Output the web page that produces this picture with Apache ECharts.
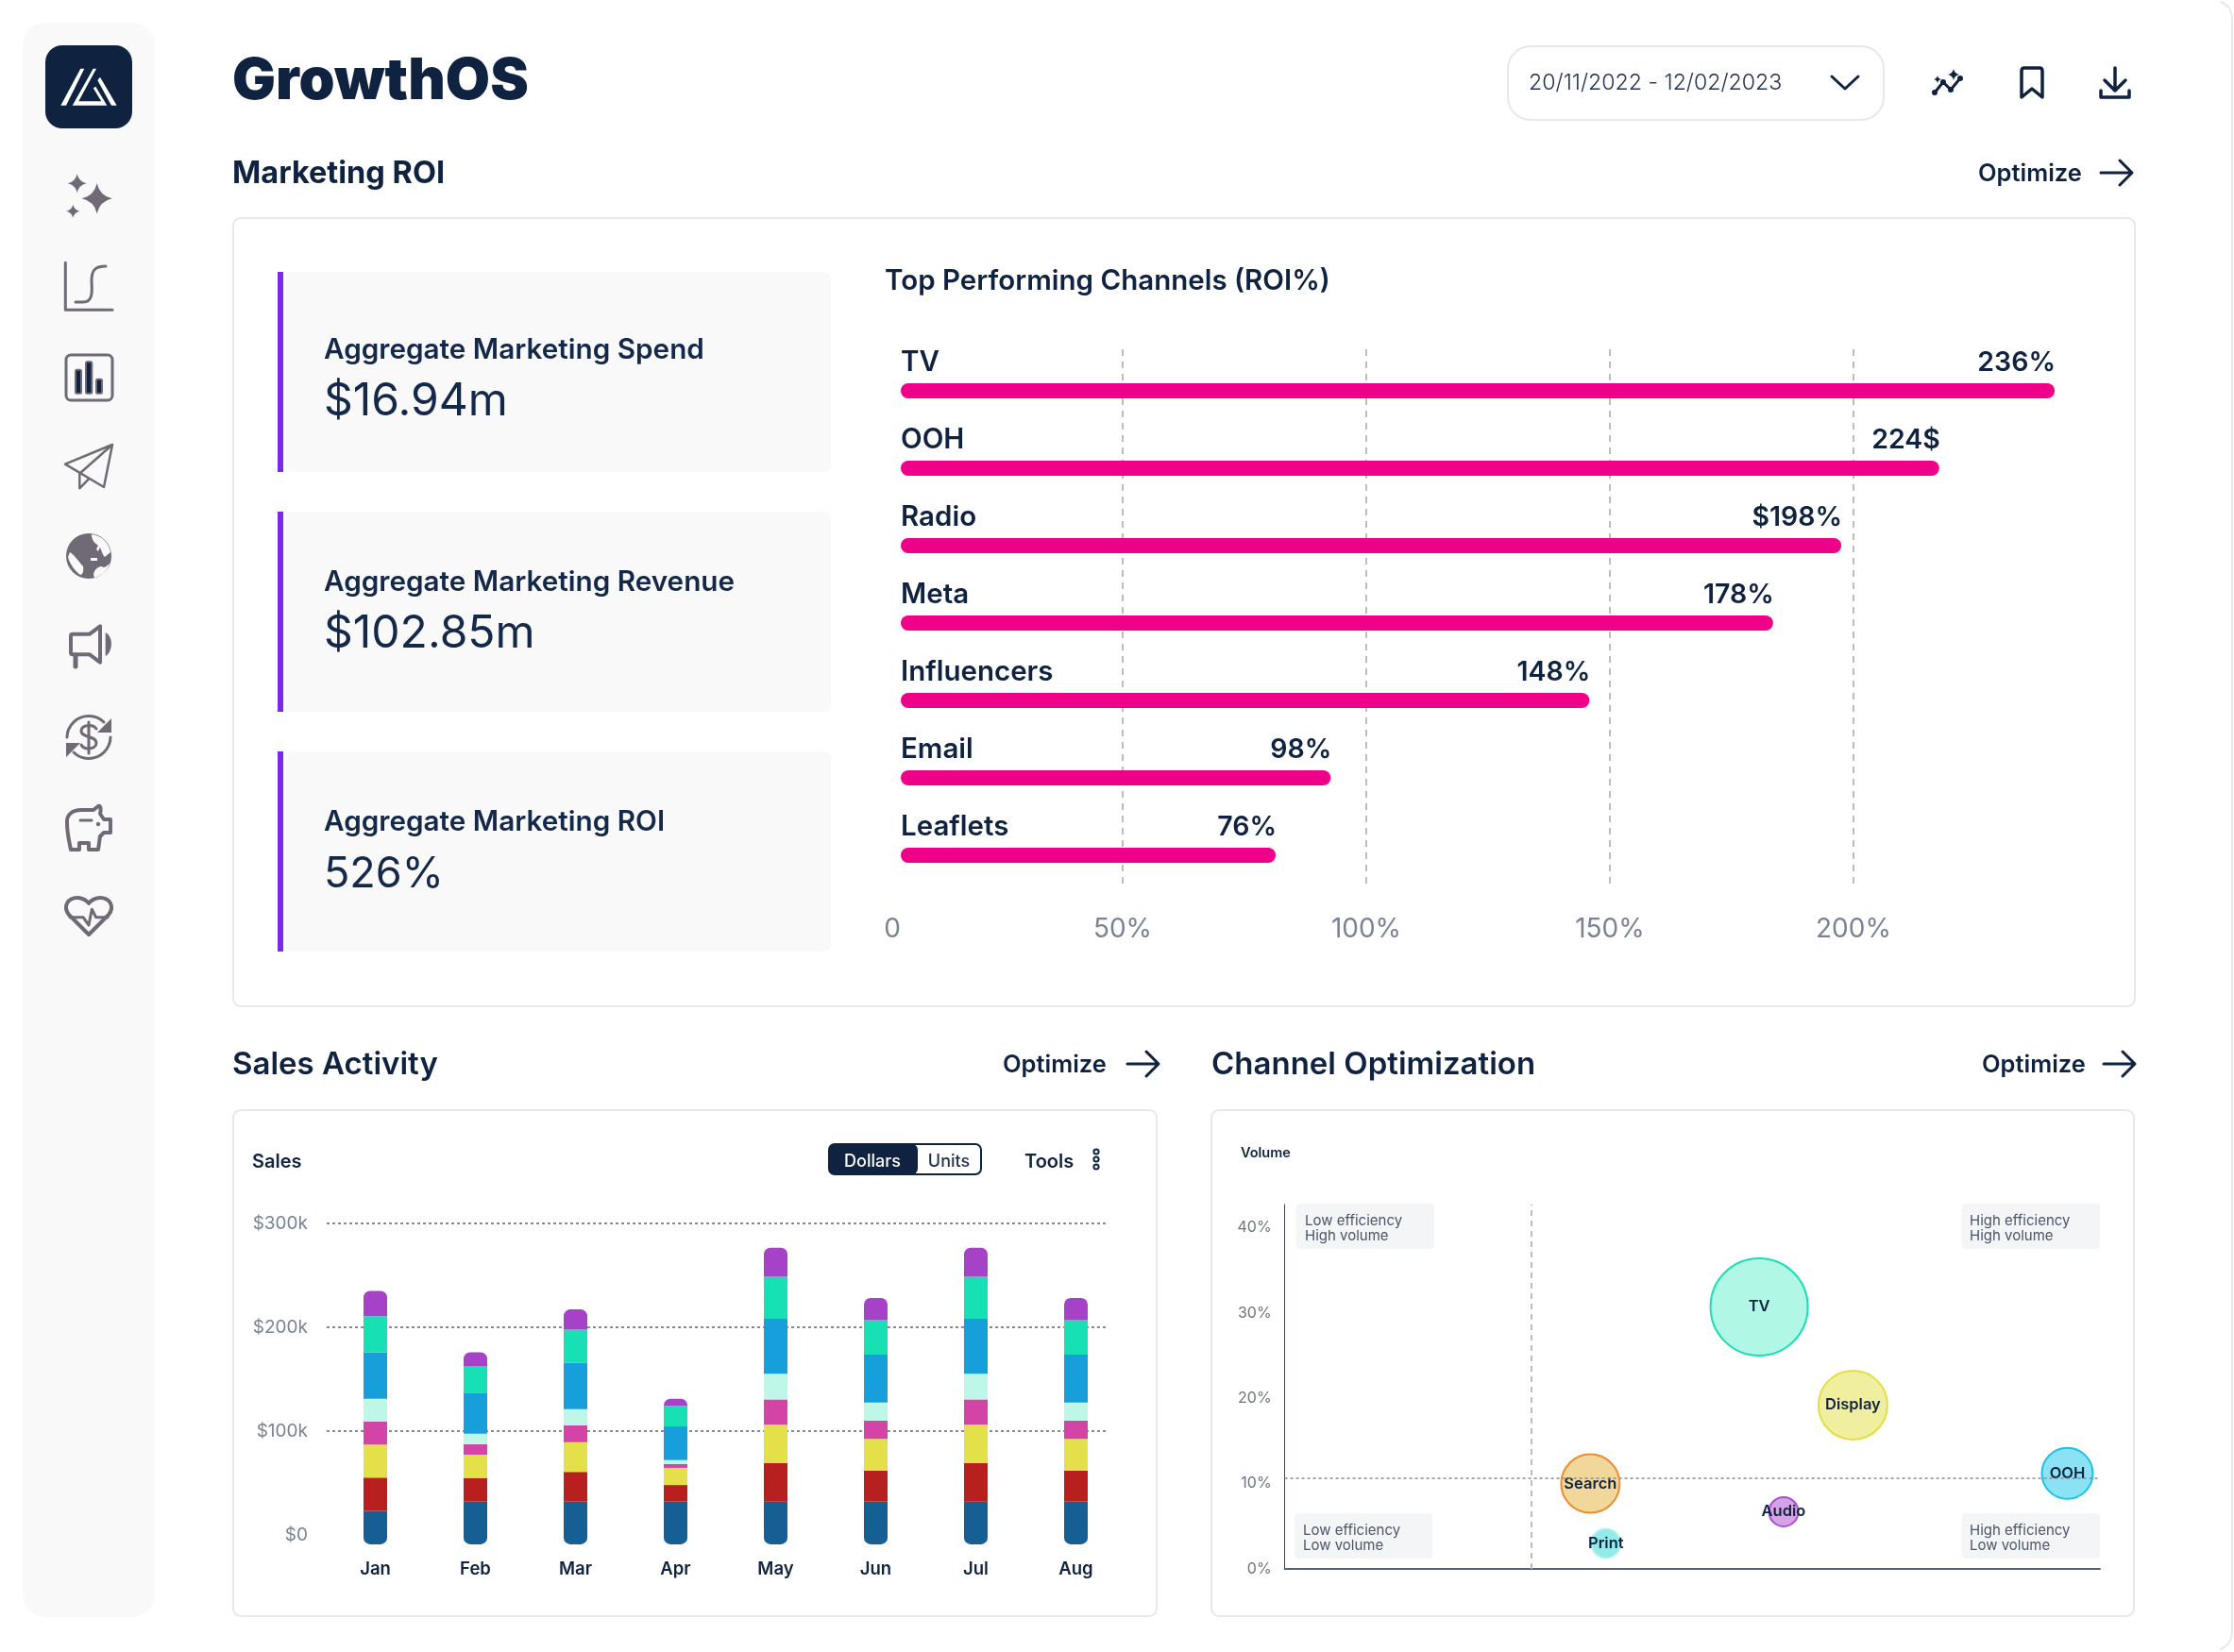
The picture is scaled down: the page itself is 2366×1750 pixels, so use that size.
<!DOCTYPE html>
<html>
<head>
<meta charset="utf-8">
<style>html,body{margin:0;padding:0;background:#fff}#c{width:2366px;height:1750px}</style>
<script src="https://cdn.jsdelivr.net/npm/echarts@6/dist/echarts.min.js"></script>
</head>
<body>
<div id="c"></div>
<script>
// ---------- data ----------
const channels = ['TV','OOH','Radio','Meta','Influencers','Email','Leaflets'];
const roiBarValues = [241.3,217.6,197.5,183.5,145.8,92.7,81.4];
const roiLabels = ['236%','224$','$198%','178%','148%','98%','76%'];
const roiTicks = [50,100,150,200];
const roiAxisStart = 4.46;

const kpiLabels = ['Aggregate Marketing Spend','Aggregate Marketing Revenue','Aggregate Marketing ROI'];
const kpiValues = ['$16.94m','$102.85m','526%'];

const months = ['Jan','Feb','Mar','Apr','May','Jun','Jul','Aug'];
const salesBelowZero = [-9,-9,-9,-9,-9,-9,-9,-9];
const sales1 = [23.1,32.1,32.1,32.1,32.1,32.1,32.1,32.1];
const sales2 = [32.1,22.8,28.6,16.0,37.1,29.9,37.1,29.9];
const sales3 = [31.8,22.4,28.6,16.5,37.0,30.5,37.0,30.5];
const sales4 = [22.1,10.0,16.2,3.6,24.3,17.6,24.3,17.6];
const sales5 = [22.1,10.1,15.6,3.9,24.7,17.5,24.7,17.5];
const sales6 = [44.8,39.0,44.8,32.4,52.9,46.1,52.9,46.1];
const sales7 = [34.7,25.9,31.8,19.5,40.6,33.1,40.6,33.1];
const sales8 = [24.4,13.7,19.5,7.2,27.9,21.4,27.9,21.4];

const bubbleNames = ['TV','Display','Search','OOH','Audio','Print'];
const bubbleEfficiency = [58.2,69.7,37.5,96.0,61.2,39.4];
const bubbleVolume = [30.7,19.2,10.0,11.2,6.7,3.0];
const bubbleDiameter = [103,73,62,54,31,31];
const volumeRefLine = 10.7;
const efficiencyRefLine = 30.3;

// ---------- styles ----------
const NAVY='#0f2240', GREY='#6f6a75', FONT='Inter', BORDER='#e8e8e8', PANEL='#f9f9f9';
const salesColors=['#165f94','#165f94','#b8201f','#e3e04a','#d444a6','#bef7e8','#179fdc','#17e0b4','#a642c8'];
const bubbleFill=['#b0f7e5','#f0ef9f','#f1d89a','#8ae2f4','#d6a3e8','#93ebe9'];
const bubbleStroke=['#17dfb5','#e2de43','#f08b30','#1ec0e8','#a94fd0','#b5f1ee'];

// ---------- chrome helpers ----------
const g=[], icons=[];
function rect(x,y,w,h,r,fill,stroke,lw){g.push({type:'rect',z:-1,silent:true,shape:{x,y,width:w,height:h,r},style:{fill:fill||'none',stroke:stroke||'none',lineWidth:lw||0}});}
function text(s,x,y,size,weight,color,align){y+=2;g.push({type:'text',z:-1,silent:true,x,y,style:{text:s,fontFamily:FONT,fontSize:size,fontWeight:weight,fill:color,align:align||'left',verticalAlign:'middle',textAlign:align||'left',textVerticalAlign:'middle'}});}
function path(d,fill,stroke,lw){icons.push({type:'path',silent:true,shape:{pathData:d},style:{fill:fill||'none',stroke:stroke||'none',lineWidth:lw||0,lineCap:'round',lineJoin:'round'}});}
function star(x,y,r){const k=r*.18;return `M${x},${y-r}Q${x+k},${y-k} ${x+r},${y}Q${x+k},${y+k} ${x},${y+r}Q${x-k},${y+k} ${x-r},${y}Q${x-k},${y-k} ${x},${y-r}Z`;}
function arrow(x,y){path(`M${x},${y}H${x+33}M${x+20},${y-13}L${x+33},${y}L${x+20},${y+13}`,null,NAVY,3);}
function optimize(x,y,ax){text('Optimize',x,y,25.5,600,NAVY);arrow(ax,y+1);}

// frame edge
path('M2352,2Q2363,6 2364,18V1730Q2363,1742 2352,1747',null,BORDER,2);
// sidebar
rect(24,24,140,1689,24,PANEL);
rect(48,48,92,88,18,NAVY);
path('M64.3,111.7L70,111.7L89.3,72.7L85.3,72.7Z','#fff');
path('M76.7,111.7L98.7,72.7L102,72.7L83.3,107.3L107.3,107.3L98.7,93.3L101.3,91.7L113.3,111.7Z','#fff');
path('M103.3,85L106,81.7L123.7,111.7L118,111.7Z','#fff');
path(star(102.7,210.3,16)+star(81.7,194.3,10)+star(77.3,223.7,7),GREY);
path('M69.3,278.3V328.3H119M80,320H88C100,320 97,305 97,297C97,285 102,282 112,282',null,GREY,3);
rect(70,376,49,48,5,'none',GREY,3);
[[80,391.7,6,25],[91,383.3,6.3,33.4],[102,401.7,6,15]].forEach(b=>rect(b[0],b[1],b[2],b[3],1.5,NAVY,GREY,2));
path('M69,491.7L119,471L110,516ZM119,471L84.3,501.7V517.3L94,507.3',null,GREY,2.5);
// globe
g.push({type:'circle',z:-1,silent:true,shape:{cx:94,cy:589,r:24},style:{fill:GREY}});
path('M97,566C108,567 116,576 117,585L111,590C107,586 108,580 103,577C100,575 97,572 97,566ZM74,585C78,587 82,593 88,600C89,606 87,609 85,609C80,606 73,596 72,590ZM96,591H103V594H96ZM102,582L106,573L108,575L104,584ZM100,612C97,606 103,600 108,600C111,603 114,598 116,597C113,606 108,610 100,612Z',PANEL);
// megaphone
path('M95,671.7L106,663.3V701.7L95,693.3H77Q75,693.3 75,691V674Q75,671.7 77,671.7Z',null,GREY,4);
path('M80,694V706',null,GREY,5);
path('M111.7,670C120,674 120,690 111.7,695Z',GREY);
// dollar
path('M71,781A23,23 0 0 1 110,765M117,781A23,23 0 0 1 78,797',null,GREY,3);
path('M118,761V776H103ZM70,802V787H85Z',GREY);
path('M102,772C99,767 87,767 86,774C86,782 102,779 102,787C102,794 89,795 86,789M94,765V798',null,GREY,3);
// pig
path('M71,872C70,862 78,858 86,858H99L104,854C107,853 107,858 106,862L110,868H117V882H110L106,886L104,900H94V893H84V900H75C73,890 71,882 71,872Z',null,GREY,4);
path('M85,869H97',null,GREY,3);
g.push({type:'circle',z:-1,silent:true,shape:{cx:104,cy:873,r:2.2},style:{fill:GREY}});
// heart
path('M94,990L73,969C66,960 72,951 82,951C87,951 92,954 94,957C96,954 101,951 106,951C116,951 122,960 115,969Z',null,GREY,4);
path('M74,971.7H88L94,980L97.3,963.3L101.7,971.7H114',null,GREY,3);

// header
text('GrowthOS',246,85,61,900,NAVY);
text('Marketing ROI',246,182,32.5,700,NAVY);
optimize(2095,182,2225);
rect(1597,49,398,78,24,'#fff',BORDER,2);
text('20/11/2022 - 12/02/2023',1619,86,23.2,300,'#25344f');
path('M1940,81L1954,94L1968,81',null,NAVY,3);
path('M2049,98L2058,87L2066,95L2076,83',null,NAVY,3);
[[2049,98],[2058,87],[2066,95],[2076,83]].forEach(p=>g.push({type:'circle',z:-1,silent:true,shape:{cx:p[0],cy:p[1],r:3},style:{fill:NAVY}}));
path(star(2069,79,6)+star(2052,84,4),NAVY);
path('M2141,75Q2141,72 2144,72H2160Q2163,72 2163,75V103L2152,94L2141,103Z',null,NAVY,3.5);
path('M2240,72V96M2229,85L2240,96L2251,85M2225,96V103H2255V96',null,NAVY,3.5);

// main card
rect(247,231,2014,835,8,'#fff',BORDER,2);
const kpiTops=[288,542,796], kpiLabelY=[369,615,869], kpiValueY=[424,670,924], kpiValueSize=[48,48,45];
kpiLabels.forEach((l,i)=>{
  rect(294,kpiTops[i],586,212,8,PANEL);
  rect(294,kpiTops[i],6,212,0,'#7a28ec');
  text(l,343,kpiLabelY[i],29.7,600,'#14284a');
  text(kpiValues[i],343,kpiValueY[i],kpiValueSize[i],400,'#14284a');
});
text('Top Performing Channels (ROI%)',937,296,29.5,600,NAVY);

// lower section
text('Sales Activity',246,1126,33,600,NAVY);
optimize(1062,1126,1194);
text('Channel Optimization',1283,1126,33,600,NAVY);
optimize(2099,1126,2228);
rect(247,1176,978,536,8,'#fff',BORDER,2);
rect(1283,1176,977,536,8,'#fff',BORDER,2);
text('Sales',267,1229,20,600,NAVY);
rect(878,1212,161,32,6,'#fff',NAVY,2);
rect(878,1212,94,32,6,NAVY);
text('Dollars',924,1229,18,500,'#fff','center');
text('Units',1005,1229,18,500,'#1f2f4c','center');
text('Tools',1085,1229,20,600,NAVY);
[1220,1228,1236].forEach(y=>g.push({type:'circle',z:-1,silent:true,shape:{cx:1161,cy:y,r:2.6},style:{fill:'#fff',stroke:NAVY,lineWidth:2}}));
text('Volume',1314,1220,14.5,600,NAVY);
const quad=[[1373,1275,1382,'Low efficiency','High volume'],[2078,1275,2086,'High efficiency','High volume'],[1371,1603,1380,'Low efficiency','Low volume'],[2078,1603,2086,'High efficiency','Low volume']];
quad.forEach(q=>{
  rect(q[0],q[1],146,48,4,'#f4f5f7');
  text(q[3],q[2],q[1]+16,15,400,'#4a5568');
  text(q[4],q[2],q[1]+32,15,400,'#4a5568');
});

// ---------- series ----------
const salesData=[salesBelowZero,sales1,sales2,sales3,sales4,sales5,sales6,sales7,sales8];
const salesSeries=salesData.map((d,i)=>({
  type:'bar',xAxisIndex:3,yAxisIndex:3,stack:'sales',barWidth:25,data:d,z:3,
  itemStyle:{color:salesColors[i],borderRadius:i===0?[0,0,7,7]:(i===8?[7,7,0,0]:0)}
}));

const option={
  animation:false,
  backgroundColor:'#fff',
  textStyle:{fontFamily:FONT},
  graphic:{elements:g},
  grid:[
    {left:954,top:370,width:1267,height:568},
    {left:954,top:373,width:1267,height:574},
    {left:346,top:1296,width:828,height:330},
    {left:344.5,top:1296,width:848,height:339.9},
    {left:1360.6,top:1276,width:863.4,height:386}
  ],
  xAxis:[
    {gridIndex:0,type:'value',min:roiAxisStart,max:250,
      axisLine:{show:false},
      axisTick:{show:false,customValues:[roiAxisStart].concat(roiTicks)},
      splitLine:{show:true,showMinLine:false,lineStyle:{type:[7,6],color:'#bdbdbd',width:2}},
      axisLabel:{customValues:[roiAxisStart].concat(roiTicks),alignMinLabel:'right',margin:33,fontFamily:FONT,fontSize:28,color:'#7a8294',
        formatter:v=>v===roiAxisStart?'0':v+'%'}},
    {gridIndex:1,type:'value',min:roiAxisStart,max:250,show:false,splitLine:{show:false}},
    {gridIndex:2,type:'value',min:0,max:1,show:false,splitLine:{show:false}},
    {gridIndex:3,type:'category',data:months,axisLine:{show:false},axisTick:{show:false},
      axisLabel:{margin:17,fontFamily:FONT,fontSize:18.5,fontWeight:600,color:NAVY}},
    {gridIndex:4,type:'value',min:0,max:100,
      axisLine:{show:true,onZero:false,lineStyle:{color:'#5a6172',width:2}},axisTick:{show:false},axisLabel:{show:false},splitLine:{show:false}}
  ],
  yAxis:[
    {gridIndex:0,type:'value',min:0,max:1,show:false,splitLine:{show:false}},
    {gridIndex:1,type:'category',inverse:true,data:channels,axisLine:{show:false},axisTick:{show:false},
      axisLabel:{inside:true,margin:0,align:'left',verticalAlign:'bottom',lineHeight:30,padding:[0,0,14.5,0],fontFamily:FONT,fontSize:29.5,fontWeight:600,color:NAVY}},
    {gridIndex:2,type:'value',min:0,max:300,interval:100,axisLine:{show:false},axisTick:{show:false},
      splitLine:{show:true,showMinLine:false,lineStyle:{type:[3,3],color:'#8a8a8a',width:2}},
      axisLabel:{margin:20,padding:[0,0,2,0],fontFamily:FONT,fontSize:19,color:'#7a8294',formatter:v=>'$'+(v?v+'k':'0')}},
    {gridIndex:3,type:'value',min:-9,max:300,show:false,splitLine:{show:false}},
    {gridIndex:4,type:'value',min:0,max:42.7,interval:10,
      axisLine:{show:true,onZero:false,lineStyle:{color:'#3b4659',width:1}},axisTick:{show:false},splitLine:{show:false},
      axisLabel:{showMaxLabel:false,margin:14,fontFamily:FONT,fontSize:16,color:'#6b7280',formatter:v=>v+'%'}}
  ],
  series:[
    {type:'custom',coordinateSystem:'none',silent:true,z:1,data:[[0]],
      renderItem:()=>({type:'group',children:icons})},
    {type:'bar',xAxisIndex:1,yAxisIndex:1,barWidth:16,data:roiBarValues,z:3,
      itemStyle:{color:'#ee0088',borderRadius:8},
      label:{show:true,position:'insideRight',distance:2,offset:[3,-30],fontFamily:FONT,fontSize:28.5,fontWeight:600,color:NAVY,
        formatter:p=>roiLabels[p.dataIndex]}},
    ...salesSeries,
    {type:'scatter',xAxisIndex:4,yAxisIndex:4,data:[],z:1,
      markLine:{silent:true,symbol:'none',label:{show:false},
        data:[
          {yAxis:volumeRefLine,lineStyle:{type:[3,3],color:'#8a8a8a',width:1.5}},
          {xAxis:efficiencyRefLine,lineStyle:{type:[6,5],color:'#bdbdbd',width:2}}
        ]}},
    {type:'scatter',xAxisIndex:4,yAxisIndex:4,z:4,
      data:bubbleNames.map((n,i)=>({name:n,value:[bubbleEfficiency[i],bubbleVolume[i],bubbleDiameter[i]],
        itemStyle:{color:bubbleFill[i],borderColor:bubbleStroke[i],borderWidth:2,opacity:1}})),
      symbolSize:v=>v[2],
      label:{show:true,position:'inside',formatter:'{b}',fontFamily:FONT,fontSize:16.5,fontWeight:600,color:NAVY}}
  ]
};
const chart=echarts.init(document.getElementById('c'),null,{width:2366,height:1750,renderer:'canvas'});
chart.setOption(option);
</script>
</body>
</html>
